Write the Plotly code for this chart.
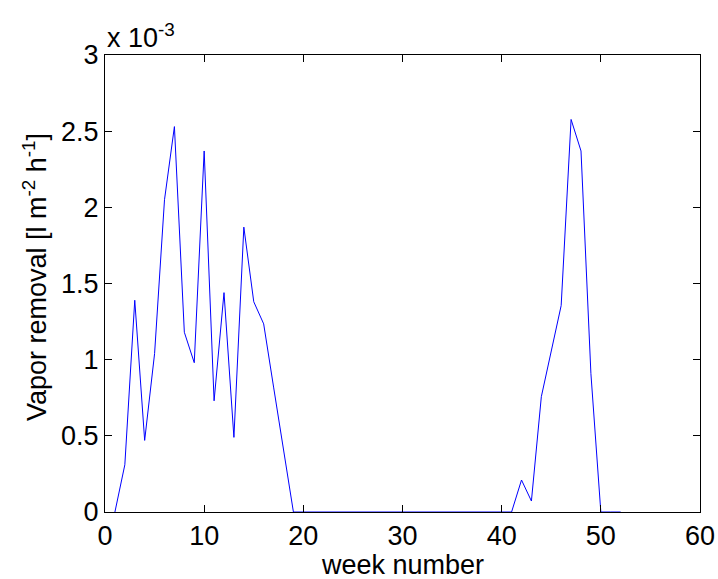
import plotly.graph_objects as go

# week numbers and vapor removal (units of 1e-3 l m^-2 h^-1)
weeks = list(range(1, 53))
vapor_removal = [
    0.0, 0.31, 1.39, 0.47, 1.04, 2.05, 2.53, 1.18, 0.98, 2.37,
    0.73, 1.44, 0.49, 1.87, 1.38, 1.235, 0.82, 0.42, 0.0, 0.0,
    0.0, 0.0, 0.0, 0.0, 0.0, 0.0, 0.0, 0.0, 0.0, 0.0,
    0.0, 0.0, 0.0, 0.0, 0.0, 0.0, 0.0, 0.0, 0.0, 0.0,
    0.0, 0.21, 0.072, 0.757, 1.06, 1.355, 2.577, 2.37, 0.908, 0.0,
    0.0, 0.0,
]
x_ticks = [0, 10, 20, 30, 40, 50, 60]
y_ticks = [0, 0.5, 1, 1.5, 2, 2.5, 3]
y_tick_labels = ["0", "0.5", "1", "1.5", "2", "2.5", "3"]

FONT = "Liberation Sans, Arial, sans-serif"
FS = 27

fig = go.Figure()
fig.add_trace(go.Scatter(
    x=weeks, y=vapor_removal, mode="lines",
    line=dict(color="#0000ff", width=1),
    showlegend=False,
))

axis_common = dict(
    showline=True, linecolor="black", linewidth=1, mirror="ticks",
    ticks="inside", ticklen=7, tickcolor="black", tickwidth=1,
    showgrid=False, zeroline=False, automargin=False,
    tickfont=dict(family=FONT, size=FS, color="black"),
)

fig.update_xaxes(range=[0, 60], tickvals=x_ticks, **axis_common)
fig.update_yaxes(range=[0, 3], tickvals=y_ticks, ticktext=y_tick_labels, **axis_common)

# axis titles
fig.add_annotation(
    text="week number", xref="paper", yref="paper",
    x=0.5, y=0.0, xanchor="center", yanchor="middle", yshift=-53,
    showarrow=False, font=dict(family=FONT, size=FS, color="black"),
)
fig.add_annotation(
    text="Vapor removal [l m<sup>-2</sup> h<sup>-1</sup>]", xref="paper", yref="paper",
    x=0.0, y=0.514, xanchor="center", yanchor="middle", xshift=-70, textangle=-90,
    showarrow=False, font=dict(family=FONT, size=FS, color="black"),
)
# exponent label
fig.add_annotation(
    text="x 10<sup>-3</sup>", xref="paper", yref="paper",
    x=0.0, y=1.0, xanchor="left", yanchor="bottom", yshift=0,
    showarrow=False, font=dict(family=FONT, size=FS, color="black"),
)

fig.update_layout(
    width=718, height=579,
    margin=dict(l=105, r=18, t=55, b=67),
    paper_bgcolor="white", plot_bgcolor="white",
    font=dict(family=FONT, size=FS, color="black"),
)

fig.write_html(
    "out.html",
    config={"displayModeBar": False},
    post_script="document.body.style.margin='0';document.body.style.overflow='hidden';",
)
